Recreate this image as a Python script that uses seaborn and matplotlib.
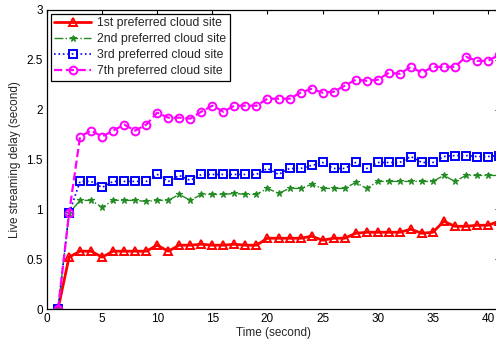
import matplotlib
matplotlib.use("Agg")
import matplotlib.pyplot as plt
import seaborn as sns
import numpy as np
from matplotlib.ticker import FuncFormatter

time_s = list(range(1, 42))

first_site = [0, 0.52, 0.58, 0.58, 0.52, 0.58, 0.58, 0.58, 0.58, 0.64,
              0.58, 0.64, 0.64, 0.65, 0.64, 0.64, 0.65, 0.64, 0.64, 0.71,
              0.71, 0.71, 0.71, 0.73, 0.69, 0.71, 0.71, 0.76, 0.77, 0.77,
              0.77, 0.77, 0.80, 0.76, 0.77, 0.88, 0.83, 0.83, 0.84, 0.84, 0.88]
second_site = [0, 0.96, 1.09, 1.09, 1.02, 1.09, 1.09, 1.09, 1.08, 1.09,
               1.09, 1.15, 1.09, 1.15, 1.15, 1.15, 1.16, 1.15, 1.15, 1.21,
               1.16, 1.21, 1.21, 1.25, 1.21, 1.21, 1.21, 1.27, 1.21, 1.28,
               1.28, 1.28, 1.28, 1.28, 1.28, 1.34, 1.28, 1.34, 1.34, 1.34, 1.34]
third_site = [0, 0.96, 1.28, 1.28, 1.22, 1.28, 1.28, 1.28, 1.28, 1.35,
              1.28, 1.34, 1.29, 1.35, 1.35, 1.35, 1.35, 1.35, 1.35, 1.41,
              1.35, 1.41, 1.41, 1.44, 1.47, 1.41, 1.41, 1.47, 1.41, 1.47,
              1.47, 1.47, 1.53, 1.47, 1.47, 1.53, 1.54, 1.54, 1.53, 1.53, 1.54]
seventh_site = [0, 0.96, 1.73, 1.79, 1.73, 1.79, 1.85, 1.79, 1.85, 1.97,
                1.92, 1.92, 1.91, 1.98, 2.04, 1.98, 2.04, 2.04, 2.04, 2.11,
                2.11, 2.11, 2.17, 2.21, 2.17, 2.18, 2.24, 2.30, 2.29, 2.30,
                2.37, 2.36, 2.43, 2.37, 2.43, 2.43, 2.43, 2.53, 2.49, 2.49, 2.55]

labels = ["1st preferred cloud site", "2nd preferred cloud site",
          "3rd preferred cloud site", "7th preferred cloud site"]
x_ticks = [0, 5, 10, 15, 20, 25, 30, 35, 40]
y_ticks = [0, 0.5, 1, 1.5, 2, 2.5, 3]

sns.set_style("white")
plt.rcParams['font.family'] = ['Liberation Sans', 'DejaVu Sans']

W, H = 496, 342
fig = plt.figure(figsize=(W / 100, H / 100), dpi=100)
ax = fig.add_axes([47 / W, (H - 309) / H, 452 / W, (309 - 10) / H])

specs = [
    (first_site, "#ff0000", "-", "^", 6.0, 2.0, "none", 1.4),
    (second_site, "#228b22", "-.", "*", 5.0, 1.0, None, 0.8),
    (third_site, "#0000ff", ":", "s", 5.8, 1.2, "none", 1.4),
    (seventh_site, "#ff00ff", "--", "o", 5.6, 1.6, "none", 1.4),
]
for (vals, col, ls, mk, ms, lw, mfc, mew), lab in zip(specs, labels):
    kw = dict(markeredgecolor=col, markeredgewidth=mew)
    kw["markerfacecolor"] = col if mfc is None else "none"
    sns.lineplot(x=time_s, y=vals, ax=ax, color=col, linestyle=ls, marker=mk,
                 markersize=ms, linewidth=lw, label=lab, **kw)

ax.set_xlim(0, 41)
ax.set_ylim(0, 3)
ax.set_xticks(x_ticks)
ax.set_yticks(y_ticks)
ax.yaxis.set_major_formatter(FuncFormatter(lambda v, p: f"{v:g}"))
ax.tick_params(direction="in", length=3, width=0.8, labelsize=8.5,
               top=True, right=True, pad=3, colors="black")
for s in ax.spines.values():
    s.set_visible(True)
    s.set_color("black")
    s.set_linewidth(0.9)
ax.set_xlabel("Time (second)", fontsize=8.5, labelpad=1)
ax.set_ylabel("Live streaming delay (second)", fontsize=8.5, labelpad=4)

leg = ax.legend(loc="upper left", fontsize=8.8, frameon=True, fancybox=False,
                handlelength=3.0, borderpad=0.3, labelspacing=0.32,
                borderaxespad=0.3, handletextpad=0.5)
leg.get_frame().set_edgecolor("black")
leg.get_frame().set_linewidth(0.9)
leg.get_frame().set_alpha(1)

fig.savefig("out.png", dpi=100)
